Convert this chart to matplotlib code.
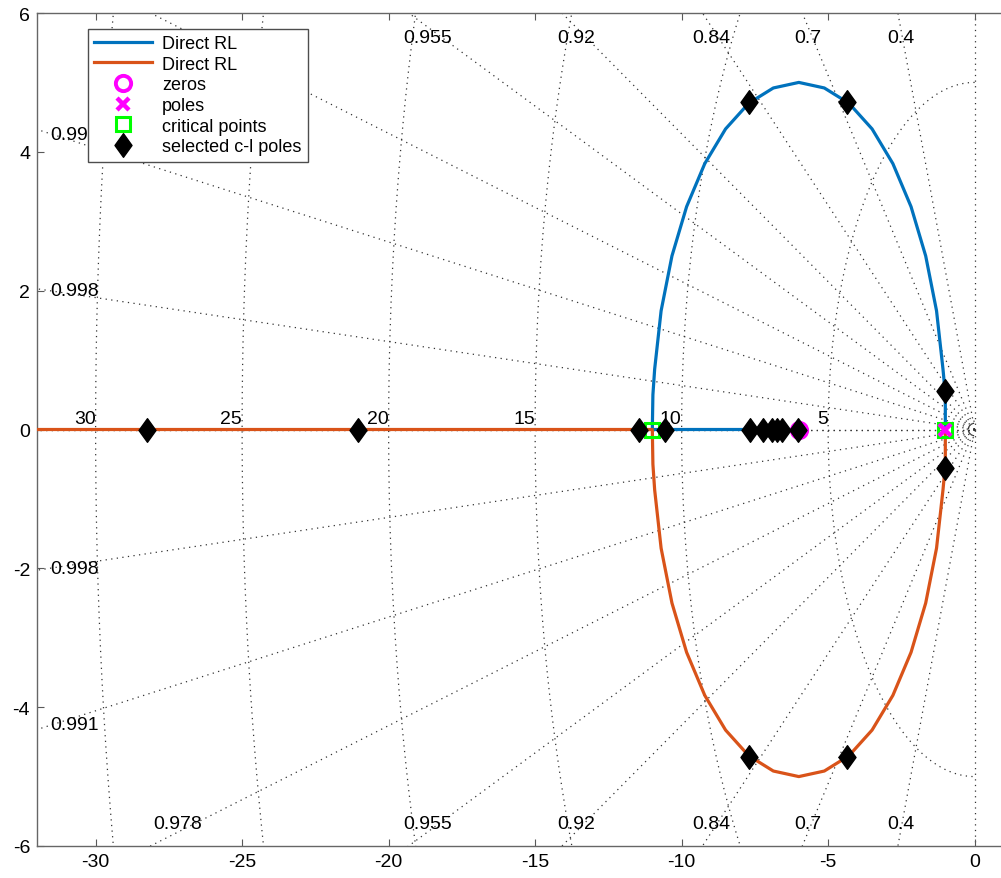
import numpy as np
import matplotlib
matplotlib.use('Agg')
import matplotlib.pyplot as plt
from matplotlib.path import Path

plt.rcParams['font.family'] = ['Liberation Sans', 'DejaVu Sans']
plt.rcParams['axes.unicode_minus'] = False

# root locus branches
upper_x = [-1.00, -1.00, -1.02, -1.08, -1.30, -1.67, -2.17, -2.79, -3.50, -4.29, -5.13,
           -6.00, -6.87, -7.71, -8.50, -9.21, -9.83, -10.33, -10.70, -10.92, -10.98, -11.00]
upper_y = [0.00, 0.55, 0.60, 0.87, 1.71, 2.50, 3.21, 3.83, 4.33, 4.70, 4.92,
           5.00, 4.92, 4.70, 4.33, 3.83, 3.21, 2.50, 1.71, 0.87, 0.50, 0.00]
blue_tail_x = [-11.00, -6.00]
orange_tail_x = [-11.00, -40.00]

zeros_x = [-6.0]
poles_x = [-1.0]
critical_x = [-11.0, -1.0]

sel_x = [-28.23, -21.04, -11.45, -10.57, -7.65, -7.22, -6.93, -6.76, -6.59, -6.04,
         -7.71, -4.36, -7.71, -4.36, -1.0, -1.0]
sel_y = [0, 0, 0, 0, 0, 0, 0, 0, 0, 0,
         4.72, 4.72, -4.72, -4.72, 0.55, -0.55]

# s-plane grid
zetas = [0.4, 0.7, 0.84, 0.92, 0.955, 0.978, 0.991, 0.998]
top_labels = ['0.4', '0.7', '0.84', '0.92', '0.955', '0.978']
side_labels = ['0.991', '0.998']
wns = [5, 10, 15, 20, 25, 30]

blue = '#0072BD'
orange = '#D95319'
gcol = '0.2'
gdash = (0, (1.0, 3.5))

fig = plt.figure(figsize=(10.01, 8.79), dpi=100)
ax = fig.add_axes([37 / 1001, 32 / 879, 964 / 1001, 833 / 879])

# damping lines
for z in [0.0, 1.0] + zetas:
    s = np.sqrt(1 - z ** 2)
    for sign in (1, -1):
        ax.plot([0, -60 * z], [0, sign * 60 * s], ls=gdash, color=gcol, lw=0.9, zorder=1)
# natural frequency circles
th = np.linspace(np.pi / 2, 3 * np.pi / 2, 400)
for w in wns:
    ax.plot(w * np.cos(th), w * np.sin(th), ls=gdash, color=gcol, lw=0.9, zorder=1)
    ax.text(-w, 0.03, str(w), ha='right', va='bottom', fontsize=14, zorder=2)
ax.plot(0.25 * np.cos(th), 0.12 * np.sin(th), ls=gdash, color=gcol, lw=0.9, zorder=1)

for z, lab in zip(zetas[:6], top_labels):
    t = np.sqrt(1 - z ** 2) / z
    x = -5.8 / t
    if z < 0.97:
        ax.text(x, 5.65, lab, ha='center', va='center', fontsize=14, zorder=2)
    ax.text(x, -5.68, lab, ha='center', va='center', fontsize=14, zorder=2)
for z, lab in zip(zetas[6:], side_labels):
    t = np.sqrt(1 - z ** 2) / z
    for sign in (1, -1):
        ax.text(-31.55, sign * 31.5 * t, lab, ha='left', va='center', fontsize=14, zorder=2)

# locus
h1, = ax.plot(upper_x + blue_tail_x, upper_y + [0, 0], color=blue, lw=2.3, zorder=3,
              label='Direct RL')
h2, = ax.plot(upper_x + orange_tail_x, [-v for v in upper_y] + [0, 0], color=orange,
              lw=2.3, zorder=3, label='Direct RL')

diamond = Path([(0, 1), (0.72, 0), (0, -1), (-0.72, 0), (0, 1)],
               [Path.MOVETO, Path.LINETO, Path.LINETO, Path.LINETO, Path.CLOSEPOLY])

h3, = ax.plot(zeros_x, [0] * len(zeros_x), 'o', ms=11, mfc='none', mec='#FF00FF',
              mew=2.8, ls='none', zorder=4, label='zeros')
h4, = ax.plot(poles_x, [0] * len(poles_x), 'x', ms=8.5, mec='#FF00FF', mew=3.2,
              ls='none', zorder=5, label='poles')
h5, = ax.plot(critical_x, [0] * len(critical_x), 's', ms=10.5, mfc='none', mec='#00FF00',
              mew=2.2, ls='none', zorder=4, label='critical points')
h6, = ax.plot(sel_x, sel_y, marker=diamond, ms=17, color='black', ls='none', zorder=6,
              label='selected c-l poles')

ax.set_xlim(-32, 0.9)
ax.set_ylim(-6, 6)
ax.set_xticks([-30, -25, -20, -15, -10, -5, 0])
ax.set_yticks([-6, -4, -2, 0, 2, 4, 6])
ax.tick_params(direction='in', length=5, width=0.8, colors='0.35', labelcolor='black',
               labelsize=14, top=True, right=False, pad=5)
for side in ['left', 'bottom', 'top']:
    ax.spines[side].set_color('0.4')
    ax.spines[side].set_linewidth(1)
ax.spines['right'].set_visible(False)

leg = ax.legend(handles=[h1, h2, h3, h4, h5, h6], loc='upper left',
                bbox_to_anchor=(0.053, 0.981), borderaxespad=0, fontsize=13,
                fancybox=False, framealpha=1, edgecolor='0.3', handlelength=3.2,
                handletextpad=0.55, labelspacing=0.2, borderpad=0.35)
leg.set_zorder(10)
leg.get_frame().set_linewidth(1)

fig.savefig('out.png', dpi=100)
